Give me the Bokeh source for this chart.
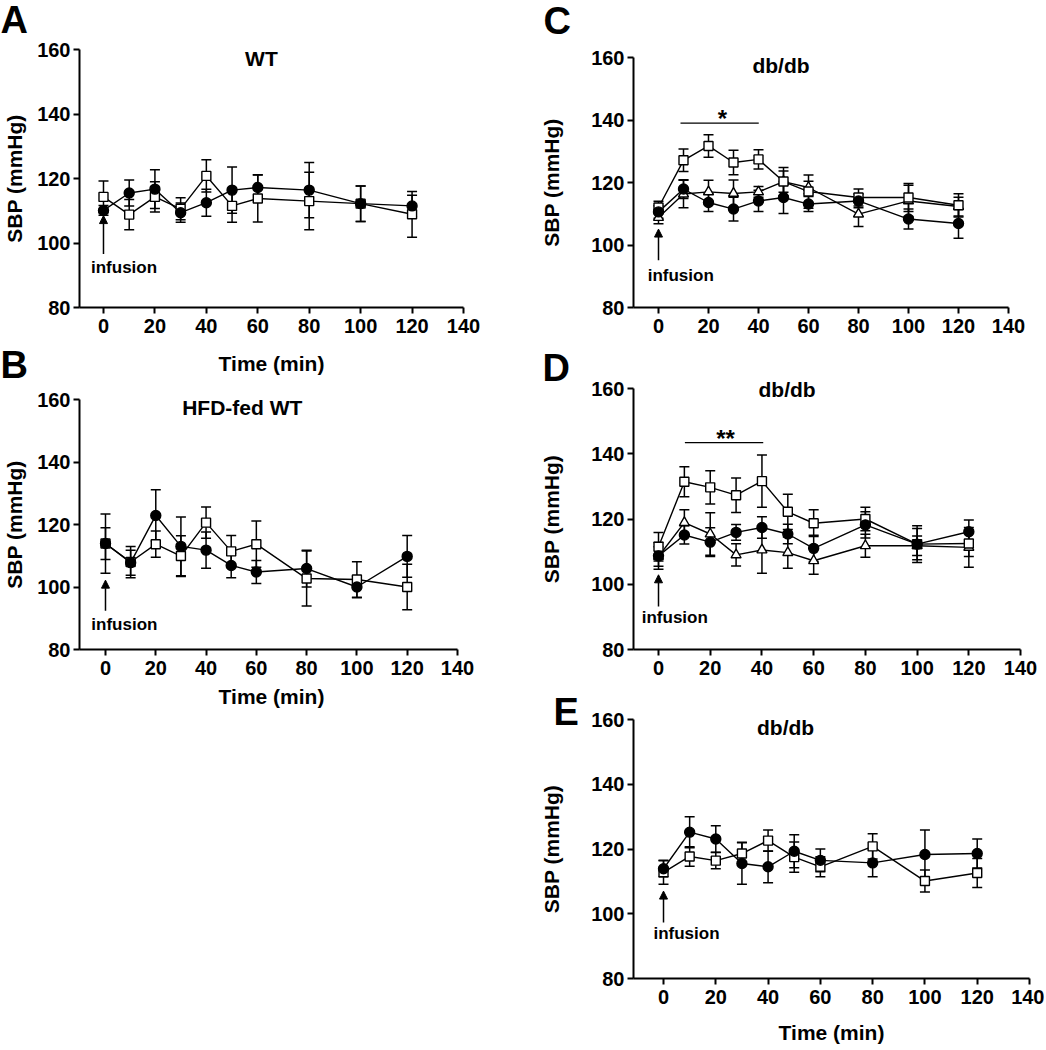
from bokeh.plotting import figure
from bokeh.models import (ColumnDataSource, Whisker, TeeHead, Label, Range1d,
                          FixedTicker, Arrow, NormalHead, Title)
from bokeh.layouts import row, column
from bokeh.embed import file_html
from bokeh.resources import INLINE

FONT = "Liberation Sans"

time_min = [0, 10, 20, 30, 40, 50, 60, 80, 100, 120]
x_ticks = [0, 20, 40, 60, 80, 100, 120, 140]
y_ticks = [80, 100, 120, 140, 160]

# Panel A  (WT)
a_circle = [110.1, 115.5, 116.7, 109.4, 112.5, 116.4, 117.2, 116.4, 112.2, 111.5]
a_circle_err = [1.5, 4.0, 6.0, 3.0, 4.2, 7.2, 4.0, 8.6, 5.5, 3.3]
a_square = [114.3, 108.8, 114.3, 110.6, 120.8, 111.5, 113.8, 113.0, 112.2, 108.9]
a_square_err = [4.9, 4.7, 4.7, 3.4, 5.0, 5.1, 7.3, 8.9, 5.5, 7.1]

# Panel B  (HFD-fed WT)
b_circle = [113.9, 107.8, 122.9, 113.0, 111.8, 106.9, 104.8, 105.9, 100.0, 109.8]
b_circle_err = [9.5, 4.0, 8.2, 9.4, 5.8, 3.9, 3.7, 5.9, 3.4, 6.7]
b_square = [113.9, 108.0, 113.7, 109.9, 120.6, 111.4, 113.7, 102.7, 102.4, 100.0]
b_square_err = [5.1, 5.0, 4.2, 6.5, 5.0, 5.1, 7.4, 8.8, 5.7, 7.3]

# Panel C  (db/db)
c_circle = [110.6, 117.9, 113.6, 111.5, 114.1, 115.2, 113.1, 114.1, 108.3, 106.9]
c_circle_err = [2.0, 3.0, 2.9, 3.8, 3.4, 5.1, 2.4, 2.2, 3.2, 4.7]
c_square = [112.0, 127.1, 131.7, 126.4, 127.4, 120.3, 117.1, 115.2, 115.2, 112.7]
c_square_err = [2.0, 3.6, 3.6, 3.9, 3.1, 4.5, 5.3, 2.7, 4.5, 3.7]
c_triangle = [108.8, 116.3, 117.0, 116.5, 117.0, 120.3, 118.4, 109.9, 114.1, 112.3]
c_triangle_err = [2.0, 4.4, 3.7, 4.3, 1.7, 3.4, 2.0, 4.0, 5.0, 3.0]

# Panel D  (db/db)
d_circle = [108.7, 115.1, 112.9, 115.9, 117.4, 115.4, 111.0, 118.2, 112.3, 116.1]
d_circle_err = [4.1, 2.8, 4.4, 2.4, 3.3, 3.0, 4.0, 4.0, 5.6, 3.6]
d_square = [111.5, 131.4, 129.7, 127.3, 131.6, 122.2, 118.7, 120.0, 112.3, 112.5]
d_square_err = [4.4, 4.6, 5.1, 5.3, 8.0, 5.4, 4.1, 3.6, 4.8, 4.0]
d_triangle = [108.5, 118.9, 115.4, 109.0, 110.5, 109.7, 107.2, 111.8, 111.8, 111.3]
d_triangle_err = [3.0, 3.9, 6.5, 3.4, 7.1, 4.8, 4.1, 3.5, 3.0, 6.1]

# Panel E  (db/db)
e_circle = [113.9, 125.2, 123.1, 115.5, 114.5, 119.3, 116.5, 115.7, 118.3, 118.6]
e_circle_err = [2.5, 4.8, 4.1, 6.4, 4.9, 5.1, 3.5, 4.3, 7.6, 4.5]
e_square = [112.8, 117.7, 116.4, 118.6, 122.6, 117.5, 114.5, 120.8, 110.1, 112.6]
e_square_err = [3.7, 3.0, 2.5, 3.5, 3.3, 4.7, 3.1, 3.9, 3.4, 4.5]

titles = {"A": "WT", "B": "HFD-fed WT", "C": "db/db", "D": "db/db", "E": "db/db"}
y_label = "SBP (mmHg)"
x_label = "Time (min)"
infusion_text = "infusion"


def make_panel(w, h, mb, xr, xlabel=True, y_standoff=8, x_standoff=16):
    p = figure(width=w, height=h, x_range=Range1d(xr[0], xr[1]), y_range=Range1d(80, 160),
               output_backend="svg", toolbar_location=None,
               min_border_left=mb[0], min_border_right=mb[1],
               min_border_top=mb[2], min_border_bottom=mb[3])
    p.xgrid.visible = False
    p.ygrid.visible = False
    p.outline_line_color = None
    p.background_fill_color = "white"
    p.border_fill_color = "white"
    p.xaxis.ticker = FixedTicker(ticks=x_ticks)
    p.yaxis.ticker = FixedTicker(ticks=y_ticks)
    p.xaxis.bounds = (xr[0], 140)
    for ax in (p.xaxis, p.yaxis):
        ax.axis_line_width = 2
        ax.axis_line_color = "black"
        ax.major_tick_line_width = 2
        ax.major_tick_line_color = "black"
        ax.major_tick_out = 6
        ax.major_tick_in = 0
        ax.minor_tick_out = 0
        ax.minor_tick_in = 0
        ax.major_label_text_font = FONT
        ax.major_label_text_font_style = "bold"
        ax.major_label_text_font_size = "20px"
        ax.major_label_text_color = "black"
        ax.axis_label_text_font = FONT
        ax.axis_label_text_font_style = "bold"
        ax.axis_label_text_font_size = "21px"
        ax.axis_label_text_color = "black"
    p.xaxis.major_label_standoff = 5
    p.yaxis.major_label_standoff = 3
    p.yaxis.axis_label = y_label
    p.yaxis.axis_label_standoff = y_standoff
    if xlabel:
        p.xaxis.axis_label = x_label
        p.xaxis.axis_label_standoff = x_standoff
    return p


def add_series(p, y, err):
    src = ColumnDataSource(dict(x=time_min, y=y,
                                upper=[v + e for v, e in zip(y, err)],
                                lower=[v - e for v, e in zip(y, err)]))
    p.add_layout(Whisker(base="x", upper="upper", lower="lower", source=src,
                         line_width=1.5, line_color="black",
                         upper_head=TeeHead(size=10, line_width=1.5, line_color="black"),
                         lower_head=TeeHead(size=10, line_width=1.5, line_color="black")))
    p.line("x", "y", source=src, line_width=1.4, line_color="black")
    return src


def build(p, series):
    srcs = [(add_series(p, y, err), m, f, s) for y, err, m, f, s in series]
    for src, marker, fill, size in srcs:
        p.scatter("x", "y", source=src, marker=marker, size=size, fill_color=fill,
                  line_color="black", line_width=1.4)


def add_text(p, x, y, text, size, align="center", baseline="middle"):
    p.add_layout(Label(x=x, y=y, text=text, text_font=FONT, text_font_style="bold",
                       text_font_size=size, text_align=align, text_baseline=baseline,
                       text_color="black"))


def add_infusion(p, tip, tail, tx, ty):
    p.add_layout(Arrow(end=NormalHead(size=8, fill_color="black", line_color="black", line_width=1),
                       x_start=0, y_start=tail, x_end=0, y_end=tip,
                       line_width=1.5, line_color="black"))
    add_text(p, tx, ty, infusion_text, "17px")


def add_spacer(p, standoff):
    p.add_layout(Title(text=" ", text_font_size="10px", standoff=standoff), "above")


def add_letter(p, letter, offset, standoff, place="above", valign="bottom", size="38px"):
    p.add_layout(Title(text=letter, align="left", offset=offset, standoff=standoff,
                       vertical_align=valign, text_font=FONT, text_font_style="bold",
                       text_font_size=size, text_color="black"), place)


# ---- A ----
pA = make_panel(520, 387, (79, 57, 49, 80), (-9.33, 140), x_standoff=16)
build(pA, [(a_square, a_square_err, "square", "white", 9),
           (a_circle, a_circle_err, "circle", "black", 10)])
add_text(pA, 61.4, 157.1, titles["A"], "21px")
add_infusion(pA, 108.5, 96.6, 8, 92.4)
add_spacer(pA, 7.8)
add_letter(pA, "A", -79, -24)
add_letter(pA, "B", -79, -68, place="below", valign="top")

# ---- B ----
pB = make_panel(520, 333, (79, 57, 12, 71), (-10.34, 142.4), x_standoff=7)
build(pB, [(b_square, b_square_err, "square", "white", 9),
           (b_circle, b_circle_err, "circle", "black", 10)])
add_text(pB, 54.4, 157.3, titles["B"], "21px")
add_infusion(pB, 102.2, 92.4, 7.5, 88.1)

# ---- C ----
pC = make_panel(524, 340, (113, 15, 57, 33), (-10, 148.4), xlabel=False, y_standoff=25)
build(pC, [(c_triangle, c_triangle_err, "triangle", "white", 10),
           (c_square, c_square_err, "square", "white", 9),
           (c_circle, c_circle_err, "circle", "black", 10)])
add_text(pC, 49, 157.5, titles["C"], "21px")
add_infusion(pC, 105.1, 95.1, 8.9, 90.1)
c_sig_x = [8.8, 40.1]
c_sig_y = [139.0, 139.0]
pC.line(c_sig_x, c_sig_y, line_width=1.4, line_color="black")
add_text(pC, 25.6, 140.6, "*", "24px", baseline="alphabetic")
add_spacer(pC, 14.8)
add_letter(pC, "C", -90, -24)

# ---- D ----
pD = make_panel(524, 343, (113, 15, 48, 34), (-9.67, 143.46), xlabel=False, y_standoff=25)
build(pD, [(d_triangle, d_triangle_err, "triangle", "white", 10),
           (d_square, d_square_err, "square", "white", 9),
           (d_circle, d_circle_err, "circle", "black", 10)])
add_letter(pD, titles["D"], 125, -25, size="21px")
add_infusion(pD, 102.9, 93.2, 6.3, 89.8)
d_sig_x = [10.2, 40.5]
d_sig_y = [143.4, 143.4]
pD.line(d_sig_x, d_sig_y, line_width=1.4, line_color="black")
add_text(pD, 25.9, 144.8, "**", "24px", baseline="alphabetic")
add_letter(pD, "D", -91, 0)

# ---- E ----
pE = make_panel(524, 363, (113, 15, 36, 66), (-11.48, 140), xlabel=True, y_standoff=25, x_standoff=14)
build(pE, [(e_square, e_square_err, "square", "white", 9),
           (e_circle, e_circle_err, "circle", "black", 10)])
add_text(pE, 46.7, 157.5, titles["E"], "21px")
add_infusion(pE, 107.0, 97.3, 8.8, 94.0)
add_letter(pE, "E", -80, -26)

layout = row(column(pA, pB), column(pC, pD, pE))
open("out.html", "w").write(file_html(layout, INLINE))
